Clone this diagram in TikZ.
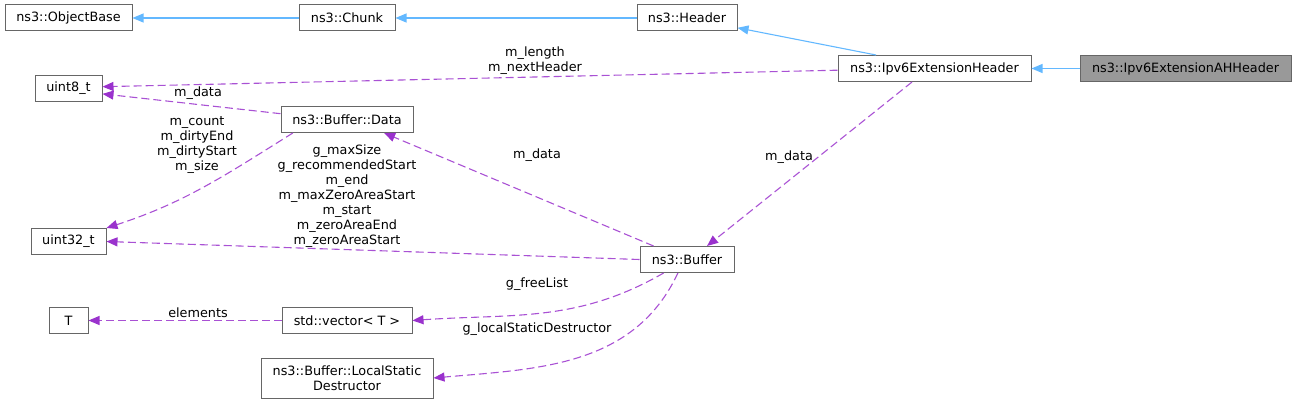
\documentclass[tikz,border=0pt]{standalone}
\usepackage{fontspec}
\setmainfont{DejaVu Sans}
\usetikzlibrary{arrows.meta}
\definecolor{inhcol}{HTML}{63B8FF}
\definecolor{usecol}{HTML}{9A32CD}
\definecolor{boxcol}{HTML}{666666}
\definecolor{focuscol}{HTML}{999999}
\begin{document}
\begin{tikzpicture}[x=1pt,y=-1pt,
        font=\fontsize{12.8}{15}\selectfont,
        cls/.style={draw=boxcol,fill=white,line width=1pt,minimum height=26pt,inner sep=0pt,align=center},
        inh/.style={inhcol,line width=1.1pt,-{Triangle[length=11pt,width=9pt]}},
        use/.style={usecol!85,line width=1.1pt,dash pattern=on 8pt off 4pt,-{Triangle[length=11pt,width=9pt,color=usecol]}},
        lbl/.style={inner sep=0pt,align=center}]
        \useasboundingbox (0,0) rectangle (1296,403);
        %% Classes
        \node[cls,minimum width=127pt] (objbase) at (68.5,18) {ns3::ObjectBase};
        \node[cls,minimum width=96pt] (chunk) at (347,18) {ns3::Chunk};
        \node[cls,minimum width=100pt] (header) at (687,18) {ns3::Header};
        \node[cls,minimum width=193pt] (ext) at (934.5,68.5) {ns3::Ipv6ExtensionHeader};
        \node[cls,minimum width=211pt,fill=focuscol] (ah) at (1185.5,68.5) {ns3::Ipv6ExtensionAHHeader};
        \node[cls,minimum width=67pt] (u8) at (68.5,88.5) {uint8\_t};
        \node[cls,minimum width=132pt] (data) at (347,119.5) {ns3::Buffer::Data};
        \node[cls,minimum width=75pt] (u32) at (68.5,241.5) {uint32\_t};
        \node[cls,minimum width=94pt] (buf) at (687,259.5) {ns3::Buffer};
        \node[cls,minimum width=39pt] (T) at (68.5,320.5) {T};
        \node[cls,minimum width=130pt] (vec) at (347,320.5) {std::vector\textless{} T \textgreater{}};
        \node[cls,minimum width=172pt,minimum height=40pt] (lsd) at (347,378) {ns3::Buffer::LocalStatic\\Destructor};
        %% Inheritance
        \draw[inh] (chunk.west) -- (objbase.east);
        \draw[inh] (header.west) -- (chunk.east);
        \draw[inh] (ext.167) -- (header.-11);
        \draw[inh] (ah.west) -- (ext.east);
        %% Members
        \draw[use] (ext.181.5) -- (u8.3);
        \draw[use] (data.175) -- (u8.-9);
        \draw[use] (data.-166) to[out=-148,in=18] (u32.north east);
        \draw[use] (buf.158) -- (data.-20);
        \draw[use] (ext.-149) -- (buf.34);
        \draw[use] (buf.west) -- (u32.east);
        \draw[use] (buf.-150) to[out=-150,in=4] (vec.east);
        \draw[use] (buf.-124) to[out=-115,in=5] (lsd.east);
        \draw[use] (vec.west) -- (T.east);
        %% Labels
        \node[lbl] (l1) at (535,61) {m\_length\\m\_nextHeader};
        \node[lbl] (l2) at (198,93) {m\_data};
        \node[lbl] (l3) at (197,145) {m\_count\\m\_dirtyEnd\\m\_dirtyStart\\m\_size};
        \node[lbl] (l4) at (537,155) {m\_data};
        \node[lbl] (l5) at (789,157) {m\_data};
        \node[lbl] (l6) at (347,196.5) {g\_maxSize\\g\_recommendedStart\\m\_end\\m\_maxZeroAreaStart\\m\_start\\m\_zeroAreaEnd\\m\_zeroAreaStart};
        \node[lbl] (l7) at (537,284) {g\_freeList};
        \node[lbl] (l8) at (198,313) {elements};
        \node[lbl] (l9) at (537,329) {g\_localStaticDestructor};
    \end{tikzpicture}
\end{document}
